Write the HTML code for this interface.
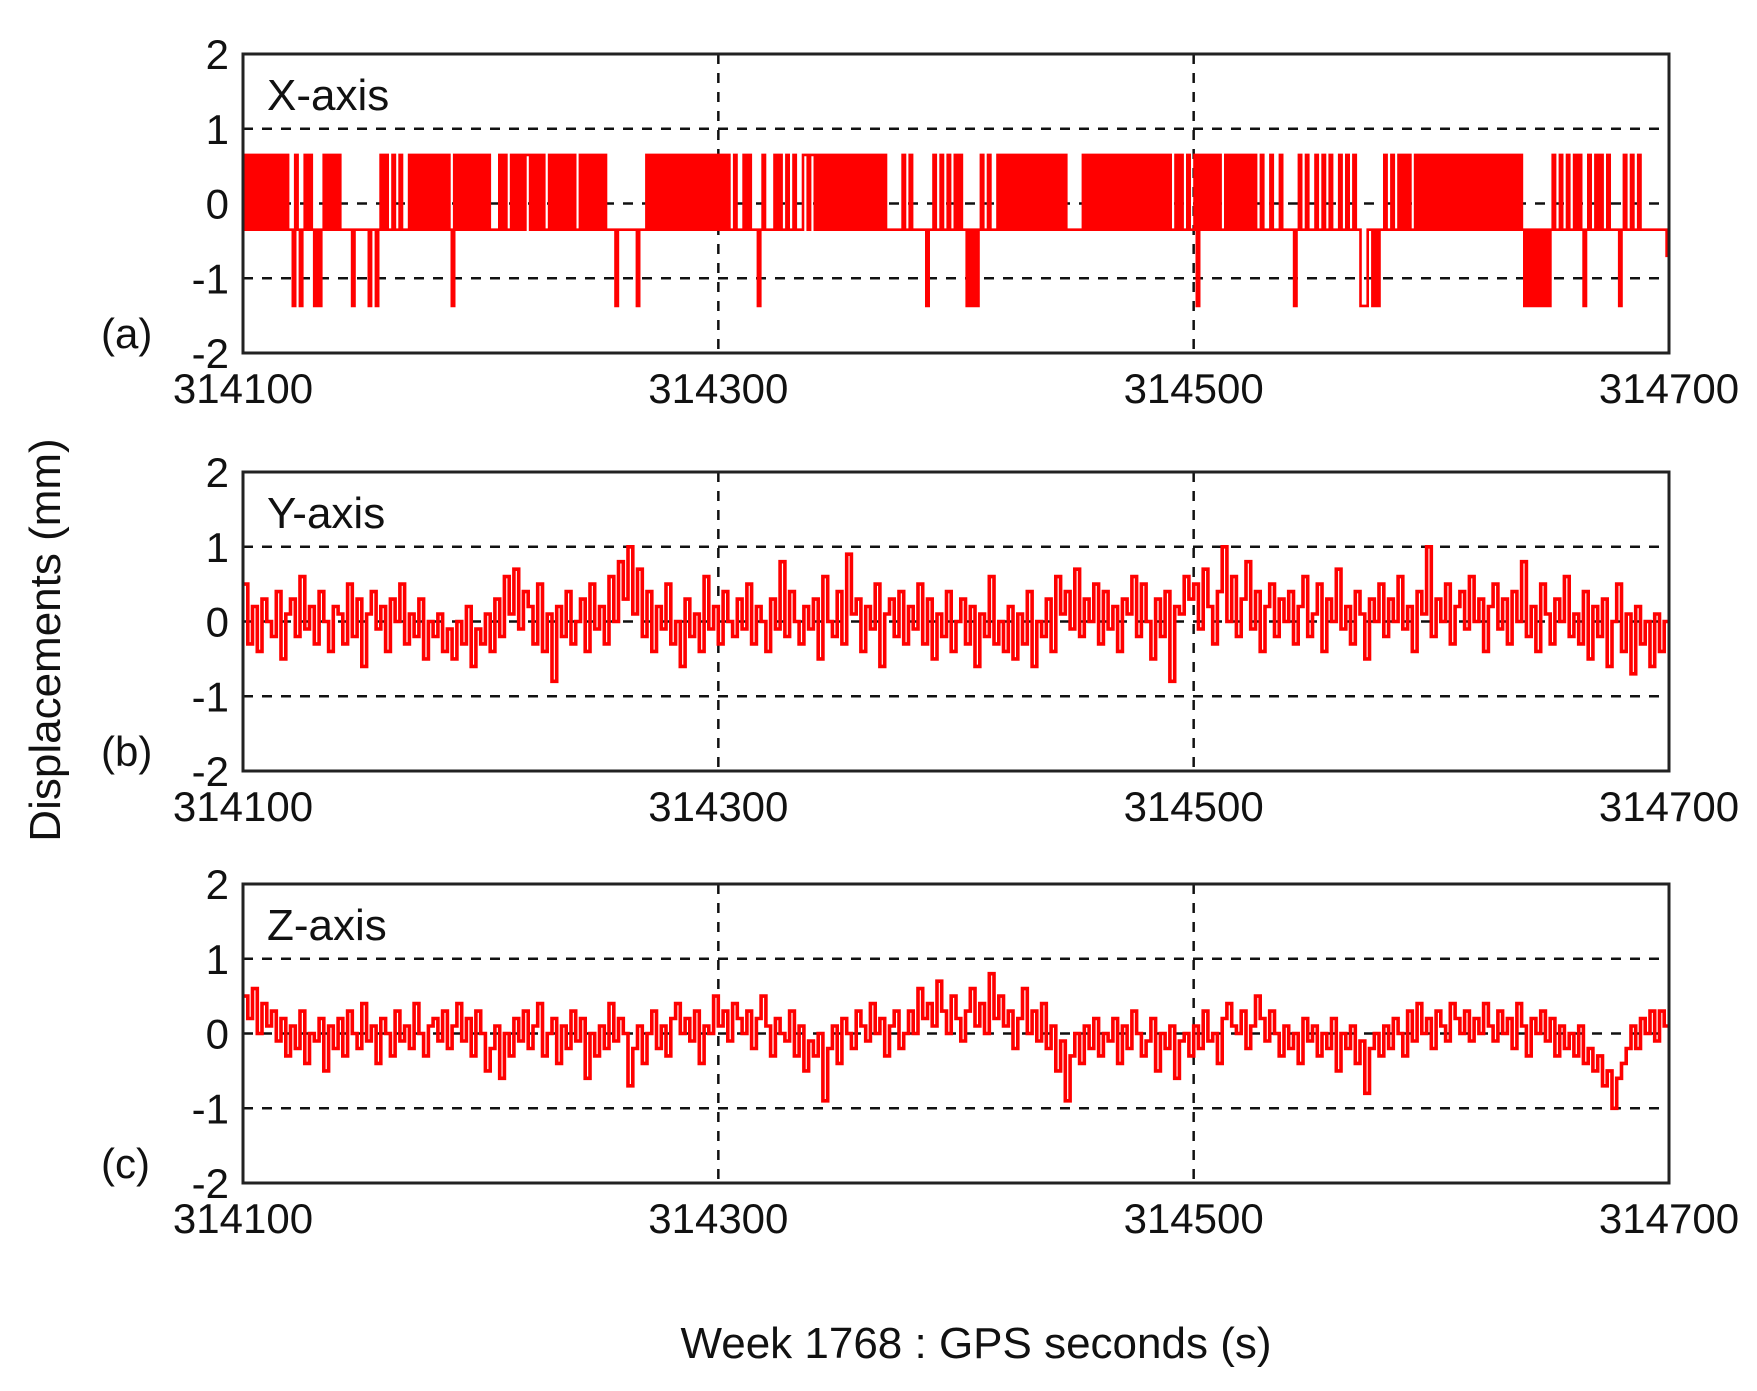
<!DOCTYPE html>
<html><head><meta charset="utf-8"><style>
html,body{margin:0;padding:0;background:#fff}
svg text{font-family:"Liberation Sans",Arial,sans-serif;fill:#111}
</style></head><body>
<svg id="chart" xmlns="http://www.w3.org/2000/svg" width="1757" height="1386" viewBox="0 0 1757 1386">
<text x="0" y="0" font-size="44" text-anchor="middle" transform="translate(60,640) rotate(-90)">Displacements (mm)</text>
<text x="976" y="1358" font-size="44" text-anchor="middle">Week 1768 : GPS seconds (s)</text>
</svg>
<script>
const xTicks = [314100, 314300, 314500, 314700];
const yTicks = [2, 1, 0, -1, -2];
const panelNames = ["X-axis", "Y-axis", "Z-axis"];
const panelLetters = ["(a)", "(b)", "(c)"];
// X series: level codes a=0.65, b=-0.35, c=-1.37, e=-0.7
const xLevels = {a:0.65, b:-0.35, c:-1.37, e:-0.7};
const xCodes =
 "abababababababababab"+"bcabcbababcbcbabababa"+"bbbbbcbbbbbbcbbcbab"+
 "abbabbabbb"+"ababababababababab"+"c"+"abababababababab"+"bbb"+"ababbabababa"+
 "abababab"+"babababa"+"bababbab"+"abababab"+"ab"+"bbbcbbbbbbbbcbbb"+"ababababab"+
 "abababababababababababa"+"babbabbbababbbcbabbbbababbabbabbba"+"aba"+
 "abababababababababababababababab"+"bbbbbb"+"abbabbbbbbcbbabbabbabb"+
 "ababb"+"cbcbc"+"babbabbb"+"ababababababababababababababab"+"bbbbbb"+"ababab"+
 "ababababababababababababababab"+"abbababbabba"+"c"+"abababababbababab"+
 "abababa"+"bbabbbabbbabb"+"bbb"+"c"+"babbabbbabbabbabbbabbabbab"+"bcccbbcbcb"+
 "babbabbabababbababab"+"abababababababababababababababababababab"+
 "cbcbcbcbcbcb"+"abbabbabbababcbabbababbabbbbcbabbabbab"+"bbbbbbbbbbe";
const ySeries = [
0.5,-0.3,0.2,-0.4,0.3,0.0,-0.2,0.4,-0.5,0.1,0.3,-0.2,0.6,-0.1,0.2,-0.3,0.4,0.0,-0.4,0.2,
0.1,-0.3,0.5,-0.2,0.3,-0.6,0.1,0.4,-0.1,0.2,-0.4,0.3,0.0,0.5,-0.3,0.1,-0.2,0.3,-0.5,0.0,
-0.2,0.1,-0.4,-0.1,-0.5,0.0,-0.3,0.2,-0.6,-0.1,-0.3,0.1,-0.4,0.3,-0.2,0.6,0.1,0.7,-0.1,0.4,
0.2,-0.3,0.5,-0.4,0.1,-0.8,0.2,-0.2,0.4,-0.3,0.0,0.3,-0.4,0.5,-0.1,0.2,-0.3,0.6,0.0,0.8,
0.3,1.0,0.1,0.7,-0.2,0.4,-0.4,0.2,-0.1,0.5,-0.3,0.0,-0.6,0.3,-0.2,0.1,-0.4,0.6,-0.1,0.2,
-0.3,0.4,0.0,-0.2,0.3,-0.1,0.5,-0.3,0.2,0.0,-0.4,0.3,-0.1,0.8,-0.2,0.4,0.0,-0.3,0.2,-0.1,
0.3,-0.5,0.6,0.0,-0.2,0.4,-0.3,0.9,0.1,0.3,-0.4,0.2,-0.1,0.5,-0.6,0.1,0.3,-0.2,0.4,-0.3,
0.2,-0.1,0.5,-0.3,0.3,-0.5,0.1,-0.2,0.4,-0.4,0.0,0.3,-0.3,0.2,-0.6,0.1,-0.2,0.6,-0.3,0.0,
-0.4,0.2,-0.5,0.1,-0.3,0.4,-0.6,0.0,-0.2,0.3,-0.4,0.6,0.1,0.4,-0.1,0.7,-0.2,0.3,0.0,0.5,
-0.3,0.4,-0.1,0.2,-0.4,0.3,0.1,0.6,-0.2,0.5,0.0,-0.5,0.3,-0.2,0.4,-0.8,0.2,0.1,0.6,0.3,
0.5,-0.1,0.7,0.2,-0.3,0.4,1.0,0.0,0.6,-0.2,0.3,0.8,-0.1,0.4,-0.4,0.2,0.5,-0.2,0.3,0.0,
0.4,-0.3,0.2,0.6,-0.2,0.1,0.5,-0.4,0.3,0.0,0.7,-0.1,0.2,-0.3,0.4,0.1,-0.5,0.3,0.0,0.5,
-0.2,0.3,0.0,0.6,-0.1,0.2,-0.4,0.4,0.1,1.0,-0.2,0.3,0.0,0.5,-0.3,0.2,0.4,-0.1,0.6,0.0,
0.3,-0.4,0.2,0.5,-0.1,0.3,-0.3,0.4,0.0,0.8,-0.2,0.2,-0.4,0.5,0.1,-0.3,0.3,0.0,0.6,-0.2,
0.1,-0.3,0.4,-0.5,0.2,-0.2,0.3,-0.6,0.0,0.5,-0.4,0.1,-0.7,0.2,-0.3,0.0,-0.6,0.1,-0.4,0.0];
const zSeries = [
0.5,0.2,0.6,0.0,0.4,0.1,0.3,-0.1,0.2,-0.3,0.1,-0.2,0.3,-0.4,0.0,-0.1,0.2,-0.5,0.1,-0.2,
0.2,-0.3,0.3,0.0,-0.2,0.4,-0.1,0.1,-0.4,0.2,0.0,-0.3,0.3,-0.1,0.1,-0.2,0.4,0.0,-0.3,0.1,
0.2,-0.1,0.3,-0.2,0.1,0.4,-0.1,0.2,-0.3,0.3,0.0,-0.5,-0.2,0.1,-0.6,0.0,-0.3,0.2,-0.1,0.3,
-0.2,0.1,0.4,-0.3,0.0,0.2,-0.4,0.1,-0.2,0.3,-0.1,0.2,-0.6,0.0,-0.3,0.1,-0.2,0.4,-0.1,0.2,
0.0,-0.7,-0.2,0.1,-0.4,0.0,0.3,-0.2,0.1,-0.3,0.2,0.4,0.0,0.2,-0.1,0.3,-0.4,0.1,0.0,0.5,
0.1,0.3,-0.1,0.4,0.2,0.0,0.3,-0.2,0.2,0.5,0.1,-0.3,0.2,0.0,-0.1,0.3,-0.3,0.1,-0.5,-0.1,
-0.3,0.0,-0.9,-0.2,0.1,-0.4,0.2,0.0,-0.2,0.3,0.1,-0.1,0.4,0.0,0.2,-0.3,0.1,0.3,-0.2,0.0,
0.3,0.0,0.6,0.2,0.4,0.1,0.7,0.3,0.0,0.5,0.2,-0.1,0.3,0.6,0.1,0.4,0.0,0.8,0.2,0.5,
0.1,0.3,-0.2,0.2,0.6,0.0,0.3,-0.1,0.4,-0.2,0.1,-0.5,-0.1,-0.9,-0.3,0.0,-0.4,0.1,-0.2,0.2,
-0.3,0.0,-0.1,0.2,-0.4,0.1,-0.2,0.3,0.0,-0.3,-0.1,0.2,-0.5,0.0,-0.2,0.1,-0.6,-0.1,0.0,-0.3,
0.1,-0.2,0.3,-0.1,0.0,-0.4,0.2,0.4,0.1,0.0,0.3,-0.2,0.1,0.5,0.2,-0.1,0.3,0.0,-0.3,0.1,
-0.2,0.0,-0.4,0.2,-0.1,0.1,-0.3,0.0,-0.2,0.2,-0.5,0.0,-0.2,0.1,-0.4,-0.1,-0.8,-0.2,0.0,-0.3,
0.1,-0.2,0.2,0.0,-0.3,0.3,-0.1,0.4,0.0,0.2,-0.2,0.3,0.1,-0.1,0.4,0.2,0.0,0.3,-0.1,0.2,
0.0,0.4,0.1,-0.1,0.3,0.0,0.2,-0.2,0.4,0.1,-0.3,0.2,0.0,0.3,-0.1,0.2,-0.3,0.1,-0.2,0.0,
-0.3,0.1,-0.4,-0.2,-0.5,-0.3,-0.7,-0.5,-1.0,-0.6,-0.4,-0.2,0.1,-0.2,0.2,0.0,0.3,-0.1,0.3,0.1];

const xSeries = xCodes.split("").map(c => xLevels[c]);
const NS = "http://www.w3.org/2000/svg";
const svg = document.getElementById("chart");
const L = 243, R = 1669;
const tops = [54, 472, 884], H = 299;
const T0 = 314100, T1 = 314700;
const sx = t => L + (t - T0) / (T1 - T0) * (R - L);
function mk(tag, attrs, parent) {
  const e = document.createElementNS(NS, tag);
  for (const k in attrs) e.setAttribute(k, attrs[k]);
  (parent || svg).appendChild(e);
  return e;
}
const allSeries = [xSeries, ySeries, zSeries];
allSeries.forEach((series, p) => {
  const top = tops[p], bot = top + H;
  const sy = v => top + (2 - v) / 4 * H;
  const g = mk("g", {});
  
  
  [1, 0, -1].forEach(v => {
    const ln = mk("line", {x1: L, x2: R, y1: sy(v), y2: sy(v), stroke: "#111", "stroke-width": 2.5, "stroke-dasharray": "10,9"}, g);
    
    
  });
  [314300, 314500].forEach(t => {
    const ln = mk("line", {x1: sx(t), x2: sx(t), y1: top, y2: bot, stroke: "#111", "stroke-width": 2.5, "stroke-dasharray": "10,9"}, g);
    
    
  });
  const n = series.length;
  const dt = (T1 - T0) / n;
  const pts = [];
  series.forEach((v, i) => {
    const xa = sx(T0 + i * dt), xb = sx(T0 + (i + 1) * dt);
    pts.push(xa.toFixed(1) + "," + sy(v).toFixed(1));
    pts.push(xb.toFixed(1) + "," + sy(v).toFixed(1));
  });
  const pl = mk("polyline", {points: pts.join(" "), fill: "none", stroke: "#ff0000", "stroke-width": p === 0 ? 2.6 : 3.6, "stroke-linejoin": "miter"}, g);
  
  
  const fr = mk("rect", {x: L, y: top, width: R - L, height: H, fill: "none", stroke: "#222", "stroke-width": 3}, g);
  
  
  yTicks.forEach(v => {
    const t = mk("text", {x: 229, y: sy(v) + 15, "font-size": 42, "text-anchor": "end"}, g);
    t.textContent = String(v);
    
    
  });
  xTicks.forEach(v => {
    const t = mk("text", {x: sx(v), y: bot + 50, "font-size": 42, "text-anchor": "middle"}, g);
    t.textContent = String(v);
    
    
  });
  const nm = mk("text", {x: 267, y: top + 56, "font-size": 44}, g);
  nm.textContent = panelNames[p];
  
  
  const lt = mk("text", {x: 101, y: bot - 5, "font-size": 42}, g);
  lt.textContent = panelLetters[p];
  
  
});
</script>
</body></html>
